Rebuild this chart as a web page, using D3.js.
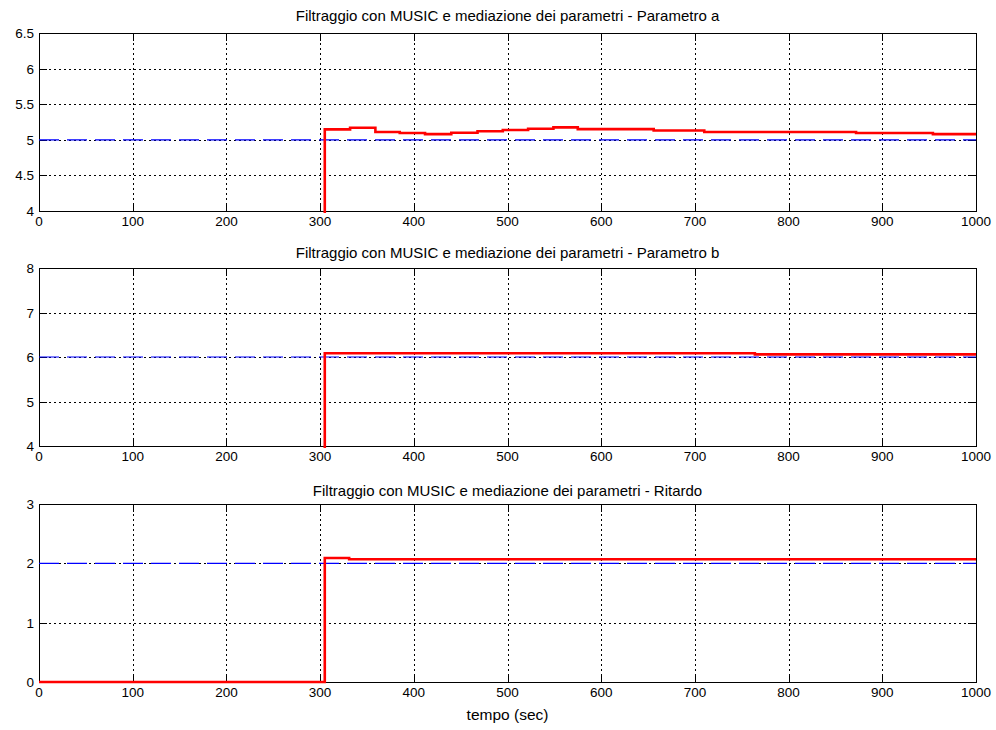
<!DOCTYPE html>
<html>
<head>
<meta charset="utf-8">
<script src="https://cdn.jsdelivr.net/npm/d3@7"></script>
<style>
  body { margin: 0; background: #fff; }
  svg text { font-family: "Liberation Sans", Arial, Helvetica, sans-serif; fill: #000; }
</style>
</head>
<body>
<svg id="chart" width="996" height="730"></svg>
<script>
// Time axis ticks shared by all three panels
const xTicks = [0, 100, 200, 300, 400, 500, 600, 700, 800, 900, 1000];

// Panel titles
const titles = [
  "Filtraggio con MUSIC e mediazione dei parametri - Parametro a",
  "Filtraggio con MUSIC e mediazione dei parametri - Parametro b",
  "Filtraggio con MUSIC e mediazione dei parametri - Ritardo"
];

// Y ranges and ticks for each panel
const yDomains = [[4, 6.5], [4, 8], [0, 3]];
const yTicksA = [4, 4.5, 5, 5.5, 6, 6.5];
const yTicksB = [4, 5, 6, 7, 8];
const yTicksR = [0, 1, 2, 3];

// True parameter values (dashed blue reference)
const trueValues = [5, 6, 2];

// Estimated parameters: change times (sec) and held values (step signal)
const timeA = [0, 305, 332, 359, 385, 412, 440, 468, 495, 522, 549, 575, 656, 710, 872, 954, 1000];
const valA  = [0, 5.147, 5.17, 5.11, 5.095, 5.08, 5.10, 5.12, 5.137, 5.156, 5.175, 5.15, 5.13, 5.11, 5.095, 5.08, 5.08];

const timeB = [0, 305, 764, 1000];
const valB  = [0, 6.085, 6.06, 6.06];

const timeR = [0, 305, 331, 1000];
const valR  = [0, 2.09, 2.068, 2.068];

const yTicksAll = [yTicksA, yTicksB, yTicksR];
const estimates = [[timeA, valA], [timeB, valB], [timeR, valR]];

const svg = d3.select("#chart");
const left = 39, right = 976;
const panelTops = [33, 268, 504];
const titleGaps = [12, 10, 8];
const panelH = 178;
const tickLen = 8;

const x = d3.scaleLinear().domain([0, 1000]).range([left, right]);

panelTops.forEach((top, i) => {
  const bottom = top + panelH;
  const y = d3.scaleLinear().domain(yDomains[i]).range([bottom, top]);
  const g = svg.append("g");

  const clipId = "clip" + i;
  svg.append("defs").append("clipPath").attr("id", clipId)
    .append("rect").attr("x", left - 2).attr("y", top - 2)
    .attr("width", right - left + 4).attr("height", panelH + 4);

  // dotted grid
  const grid = g.append("g").attr("stroke", "#000").attr("stroke-width", 1)
    .attr("stroke-dasharray", "2,3");
  xTicks.slice(1, -1).forEach(t => {
    grid.append("line").attr("x1", Math.round(x(t)) + 0.5).attr("x2", Math.round(x(t)) + 0.5)
      .attr("y1", top).attr("y2", bottom);
  });
  yTicksAll[i].slice(1, -1).forEach(t => {
    grid.append("line").attr("y1", Math.round(y(t)) + 0.5).attr("y2", Math.round(y(t)) + 0.5)
      .attr("x1", left).attr("x2", right);
  });

  // box
  g.append("rect").attr("x", left + 0.5).attr("y", top + 0.5)
    .attr("width", right - left).attr("height", panelH)
    .attr("fill", "none").attr("stroke", "#000").attr("stroke-width", 1);

  // inward ticks on all four sides
  const ticks = g.append("g").attr("stroke", "#000").attr("stroke-width", 1);
  xTicks.forEach(t => {
    const px = Math.round(x(t)) + 0.5;
    ticks.append("line").attr("x1", px).attr("x2", px).attr("y1", bottom).attr("y2", bottom - tickLen);
    ticks.append("line").attr("x1", px).attr("x2", px).attr("y1", top).attr("y2", top + tickLen);
  });
  yTicksAll[i].forEach(t => {
    const py = Math.round(y(t)) + 0.5;
    ticks.append("line").attr("y1", py).attr("y2", py).attr("x1", left).attr("x2", left + tickLen);
    ticks.append("line").attr("y1", py).attr("y2", py).attr("x1", right).attr("x2", right - tickLen);
  });

  // tick labels
  xTicks.forEach(t => {
    g.append("text").attr("x", x(t)).attr("y", bottom + 15)
      .attr("text-anchor", "middle").attr("font-size", 13.5).text(t);
  });
  yTicksAll[i].forEach(t => {
    g.append("text").attr("x", left - 5).attr("y", y(t) + 5)
      .attr("text-anchor", "end").attr("font-size", 13.5).text(t);
  });

  // title
  g.append("text").attr("x", (left + right) / 2).attr("y", top - titleGaps[i])
    .attr("text-anchor", "middle").attr("font-size", 15).text(titles[i]);

  const data = g.append("g").attr("clip-path", `url(#${clipId})`);

  // true value, dashed blue
  data.append("line")
    .attr("x1", x(0)).attr("x2", x(1000))
    .attr("y1", y(trueValues[i])).attr("y2", y(trueValues[i]))
    .attr("stroke", "#0000ff").attr("stroke-width", 1.2)
    .attr("stroke-dasharray", "20,8");

  // estimate, red step line
  const [ts, vs] = estimates[i];
  const pts = ts.map((t, k) => [t, vs[k]]);
  const line = d3.line().x(d => x(d[0])).y(d => y(d[1])).curve(d3.curveStepAfter);
  data.append("path").attr("d", line(pts))
    .attr("fill", "none").attr("stroke", "#ff0000").attr("stroke-width", 2.6);
});

// x axis label
svg.append("text").attr("x", (left + right) / 2).attr("y", 720)
  .attr("text-anchor", "middle").attr("font-size", 15.5).text("tempo (sec)");
</script>
</body>
</html>
